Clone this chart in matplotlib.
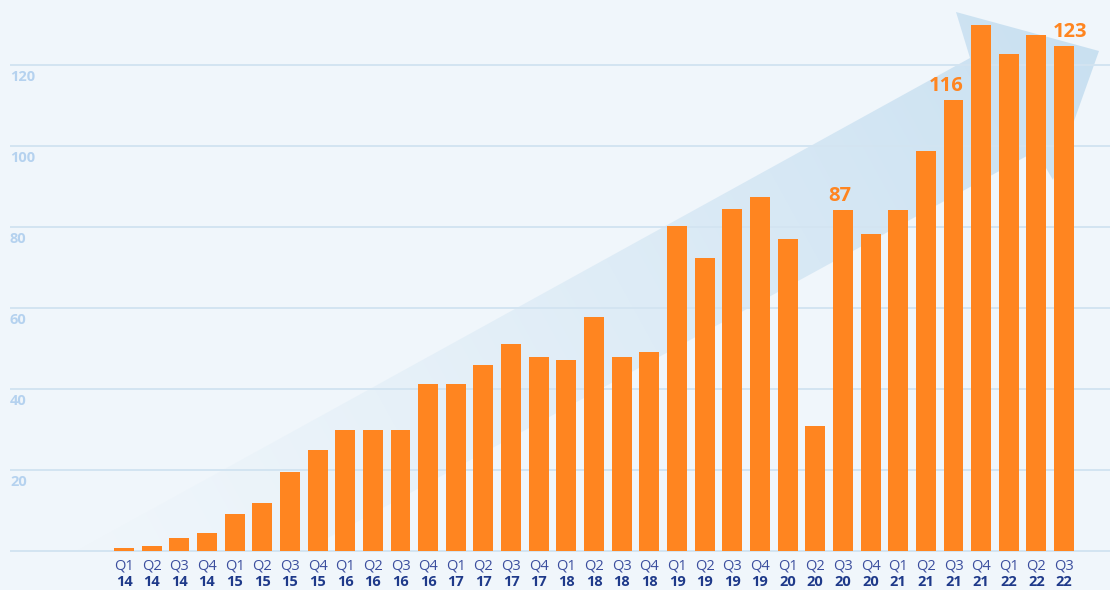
import numpy as np
import matplotlib.pyplot as plt
from matplotlib.patches import Polygon

quarters = ['Q1', 'Q2', 'Q3', 'Q4'] * 8 + ['Q1', 'Q2', 'Q3']
years = ['14'] * 4 + ['15'] * 4 + ['16'] * 4 + ['17'] * 4 + ['18'] * 4 + \
        ['19'] * 4 + ['20'] * 4 + ['21'] * 4 + ['22'] * 3
values = [0.7, 1.2, 3.2, 4.4, 9.1, 11.9, 19.5, 24.9,
          29.9, 29.9, 29.9, 41.2, 41.2, 45.9, 51.1, 47.9,
          47.2, 57.8, 47.9, 49.1, 80.2, 72.4, 84.4, 87.4,
          77.0, 30.9, 84.2, 78.3, 84.2, 98.8, 111.4, 129.9,
          122.7, 127.4, 124.7]
label_idx = [26, 30, 34]
label_txt = ['87', '116', '123']
label_dx = [-3, -7, 6]   # the original labels sit a bit off-centre
yticks = [0, 20, 40, 60, 80, 100, 120]

BG = '#f0f6fb'
ORANGE = '#ff8520'
GRID = '#d3e4f1'

W, H = 1110, 590
fig = plt.figure(figsize=(W / 100, H / 100), dpi=100, facecolor=BG)

# background decoration: big faded arrow (pixel coordinates), cut at the baseline
bg = fig.add_axes([0, 0, 1, 1], zorder=0)
bg.set_xlim(0, W)
bg.set_ylim(H, 0)
bg.axis('off')
arrow_pts = [(76, 551), (970, 58), (956, 12), (1099, 51),
             (1053, 180), (1036, 151), (304, 551)]
poly = Polygon(arrow_pts, closed=True, facecolor='none', edgecolor='none')
bg.add_patch(poly)
xx, yy = np.meshgrid(np.arange(W), np.arange(H))
d = np.array([1.0, -0.55])
d /= np.linalg.norm(d)
proj = (xx - 60) * d[0] + (yy - 600) * d[1]
t = np.clip(proj / proj.max(), 0, 1)
img = np.zeros((H, W, 4))
img[..., 0] = 190 / 255
img[..., 1] = 218 / 255
img[..., 2] = 238 / 255
img[..., 3] = 0.82 * t ** 1.3
im = bg.imshow(img, extent=(0, W, H, 0), interpolation='bilinear', aspect='auto')
im.set_clip_path(poly)

# main chart
ax = fig.add_axes([10 / W, 1 - 560 / H, 1 - 10 / W, 560 / H], zorder=1)
ax.patch.set_alpha(0)
x = np.arange(len(values))
ax.bar(x, values, width=0.72, color=ORANGE, zorder=3)
ax.set_xlim(-4.123, 35.66)
ax.set_ylim(-2.22, 136.05)
ax.set_yticks(yticks)
ax.set_xticks([])
ax.grid(axis='y', color=GRID, linewidth=1.4, zorder=1)
ax.tick_params(length=0, labelleft=False)
for s in ax.spines.values():
    s.set_visible(False)

for v in yticks[1:]:
    ax.annotate(str(v), xy=(0, v), xycoords=('axes fraction', 'data'),
                xytext=(0, -12), textcoords='offset pixels', ha='left', va='center',
                fontsize=10.5, fontweight='bold', color='#b5d2ef', family='Open Sans')

for i, (q, yr) in enumerate(zip(quarters, years)):
    ax.annotate(q, xy=(i, 0), xycoords=('data', 'axes fraction'),
                xytext=(0, -6), textcoords='offset pixels', ha='center', va='center',
                fontsize=10.5, color='#3b4e9e', family='Open Sans')
    ax.annotate(yr, xy=(i, 0), xycoords=('data', 'axes fraction'),
                xytext=(0, -22), textcoords='offset pixels', ha='center', va='center',
                fontsize=10.5, fontweight='bold', color='#1f3a8a', family='Open Sans')

for i, txt, dx in zip(label_idx, label_txt, label_dx):
    ax.annotate(txt, xy=(i, values[i]), xytext=(dx, 14), textcoords='offset pixels',
                ha='center', va='center', fontsize=14.5, fontweight='bold',
                color=ORANGE, family='Open Sans', zorder=4)

fig.savefig('out.png', dpi=100, facecolor=BG)
